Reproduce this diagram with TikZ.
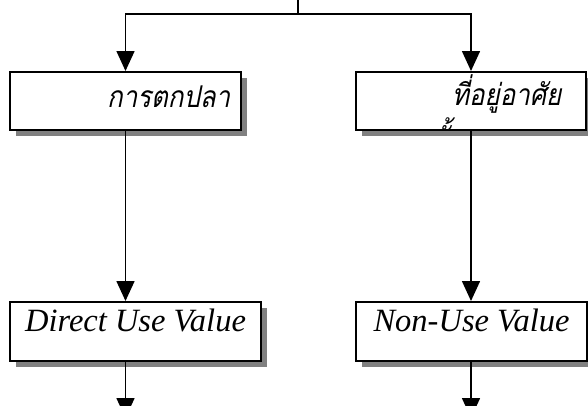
\documentclass[tikz,border=0pt]{standalone}
\usepackage{fontspec}
\setmainfont{Liberation Serif}
\newfontfamily\thaifont[Script=Thai,FakeSlant=0.2,FakeStretch=0.86]{Loma}
\usetikzlibrary{arrows.meta,shadows}

\tikzset{
  flowbox/.style={draw=black, line width=2pt, fill=white, inner sep=0pt,
    drop shadow={shadow xshift=6pt, shadow yshift=-6pt, fill=black!50, opacity=1}},
  link/.style={line width=1.6pt, draw=black},
  arr/.style={link, -{Triangle[width=18pt,length=20pt]}},
  thailabel/.style={anchor=base west, inner sep=0pt, font=\thaifont\fontsize{30}{34}\selectfont},
  englabel/.style={anchor=base, inner sep=0pt, font=\itshape\fontsize{32.5}{38}\selectfont}
}

\begin{document}
\begin{tikzpicture}[x=1pt,y=-1pt]
  \useasboundingbox (0,0) rectangle (588,405);

  % boxes
  \node[flowbox, minimum width=231pt, minimum height=58pt] (b1) at (125.5,101) {};
  \node[flowbox, minimum width=230pt, minimum height=58pt] (b2) at (471,101) {};
  \node[flowbox, minimum width=251pt, minimum height=59pt] (b3) at (135.5,331.5) {};
  \node[flowbox, minimum width=231pt, minimum height=59pt] (b4) at (471.5,331.5) {};

  % labels
  \node[thailabel] (t1) at (107,107) {การตกปลา};
  \node[thailabel] (t2) at (452,105) {ที่อยู่อาศัย};
  % second line of the right label, cut off by the box edge
  \begin{scope}
    \clip ([xshift=1pt,yshift=-1pt]b2.north west) rectangle ([xshift=-1pt,yshift=1pt]b2.south east);
    \node[thailabel] (t2b) at (430,149.5) {ชั้น};
  \end{scope}
  \node[englabel] (t3) at (135.5,331) {Direct Use Value};
  \node[englabel] (t4) at (471.5,331) {Non-Use Value};

  % connectors
  \coordinate (top) at (298,-2);
  \coordinate (split) at (298,14);
  \coordinate (e1) at (125.5,418);
  \coordinate (e2) at (471,418);
  \draw[link] (top) -- (split);
  \draw[arr] (split) -| (b1.north);
  \draw[arr] (split) -| (b2.north);
  \draw[arr] (b1.south) -- (b1.south |- b3.north);
  \draw[arr] (b2.south) -- (b2.south |- b4.north);
  \draw[arr] (b1.south |- b3.south) -- (e1);
  \draw[arr] (b2.south |- b4.south) -- (e2);
\end{tikzpicture}
\end{document}
